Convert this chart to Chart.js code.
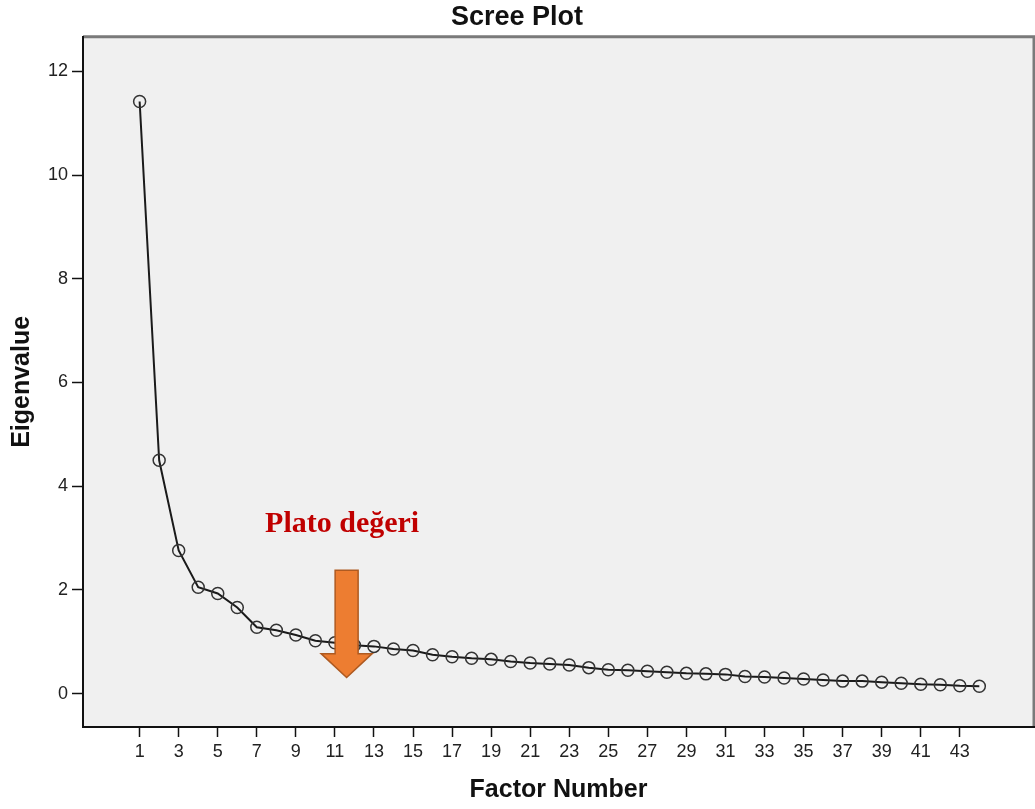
<!DOCTYPE html>
<html>
<head>
<meta charset="utf-8">
<script src="https://cdn.jsdelivr.net/npm/chart.js@4.4.1/dist/chart.umd.min.js"></script>
<style>
  html, body { margin: 0; padding: 0; background: #fff; overflow: hidden; }
  #wrap { width: 1035px; height: 809px; }
  canvas { display: block; }
</style>
</head>
<body>
<div id="wrap"><canvas id="scree" width="1035" height="809"></canvas></div>
<script>
// factor numbers and eigenvalues
const factors = [];
for (let i = 1; i <= 44; i++) factors.push(i);
const eigenvalues = [
  11.42, 4.50, 2.76, 2.05, 1.93, 1.66, 1.28, 1.22, 1.13, 1.02,
  0.98, 0.93, 0.91, 0.86, 0.83, 0.75, 0.71, 0.68, 0.66, 0.62,
  0.59, 0.57, 0.55, 0.50, 0.46, 0.45, 0.43, 0.41, 0.39, 0.38,
  0.37, 0.33, 0.32, 0.30, 0.28, 0.26, 0.24, 0.24, 0.22, 0.20,
  0.18, 0.17, 0.15, 0.14
];
const xTicks = [1, 3, 5, 7, 9, 11, 13, 15, 17, 19, 21, 23, 25, 27, 29, 31, 33, 35, 37, 39, 41, 43];
const yTicks = [0, 2, 4, 6, 8, 10, 12];

const sans = "'Liberation Sans', Arial, sans-serif";

// plot background + grey frame on top/right
const frame = {
  id: 'frame',
  beforeDraw(chart) {
    const { ctx, chartArea: a } = chart;
    ctx.save();
    ctx.fillStyle = '#f0f0f0';
    ctx.fillRect(a.left, a.top, a.right - a.left, a.bottom - a.top);
    ctx.strokeStyle = '#7a7a7a';
    ctx.lineWidth = 3;
    ctx.beginPath();
    ctx.moveTo(a.left, a.top);
    ctx.lineTo(a.right, a.top);
    ctx.lineTo(a.right, a.bottom);
    ctx.stroke();
    ctx.restore();
  }
};

// "Plato değeri" label with the orange arrow
const plateau = {
  id: 'plateau',
  afterDatasetsDraw(chart, args, opts) {
    const { ctx, scales: { x, y } } = chart;
    const cx = x.getPixelForValue(opts.arrowX);
    const top = y.getPixelForValue(opts.arrowTop);
    const neck = y.getPixelForValue(opts.arrowNeck);
    const tip = y.getPixelForValue(opts.arrowTip);
    const sw = 11.5, hw = 25.5;
    ctx.save();
    ctx.beginPath();
    ctx.moveTo(cx - sw, top);
    ctx.lineTo(cx + sw, top);
    ctx.lineTo(cx + sw, neck);
    ctx.lineTo(cx + hw, neck);
    ctx.lineTo(cx, tip);
    ctx.lineTo(cx - hw, neck);
    ctx.lineTo(cx - sw, neck);
    ctx.closePath();
    ctx.fillStyle = '#ed7d31';
    ctx.fill();
    ctx.strokeStyle = '#ae5a21';
    ctx.lineWidth = 1.5;
    ctx.stroke();

    ctx.font = "bold 30px 'Liberation Serif', 'Times New Roman', serif";
    ctx.fillStyle = '#c00000';
    ctx.textAlign = 'center';
    ctx.textBaseline = 'alphabetic';
    ctx.fillText(opts.text, x.getPixelForValue(opts.labelX), y.getPixelForValue(opts.labelY));
    ctx.restore();
  }
};

new Chart(document.getElementById('scree'), {
  type: 'line',
  data: {
    labels: factors,
    datasets: [{
      data: factors.map((f, i) => ({ x: f, y: eigenvalues[i] })),
      borderColor: '#1a1a1a',
      borderWidth: 2,
      pointRadius: 6,
      pointBorderWidth: 1.5,
      pointBorderColor: '#333',
      pointBackgroundColor: 'rgba(0,0,0,0)',
      tension: 0
    }]
  },
  options: {
    responsive: false,
    animation: false,
    events: [],
    layout: { autoPadding: false, padding: { left: 0, right: 1, top: 0, bottom: 0 } },
    plugins: {
      legend: { display: false },
      tooltip: { enabled: false },
      title: {
        display: true,
        text: 'Scree Plot',
        color: '#111',
        font: { family: sans, size: 27, weight: 'bold', lineHeight: 1.1 },
        padding: { top: 3, bottom: 4 }
      },
      plateau: {
        text: 'Plato değeri',
        arrowX: 11.6, arrowTop: 2.38, arrowNeck: 0.77, arrowTip: 0.31,
        labelX: 11.37, labelY: 3.12
      }
    },
    scales: {
      x: {
        type: 'linear',
        min: -1.9,
        max: 46.8,
        afterBuildTicks: s => { s.ticks = xTicks.map(v => ({ value: v })); },
        afterFit: s => { s.height = 82; s.paddingLeft = 0; s.paddingRight = 0; },
        grid: { drawOnChartArea: false, tickLength: 10, tickColor: '#111', tickWidth: 1.5 },
        border: { color: '#111', width: 2 },
        ticks: {
          autoSkip: false, maxRotation: 0, padding: 4,
          color: '#222',
          font: { family: sans, size: 18 }
        },
        title: {
          display: true,
          text: 'Factor Number',
          color: '#111',
          font: { family: sans, size: 25, weight: 'bold', lineHeight: 1.2 },
          padding: { top: 0, bottom: 4 }
        }
      },
      y: {
        type: 'linear',
        min: -0.645,
        max: 12.67,
        afterBuildTicks: s => { s.ticks = yTicks.map(v => ({ value: v })); },
        afterFit: s => { s.width = 83; },
        grid: { drawOnChartArea: false, tickLength: 11, tickColor: '#111', tickWidth: 1.5 },
        border: { color: '#111', width: 2 },
        ticks: {
          padding: 4,
          color: '#222',
          font: { family: sans, size: 18 }
        },
        title: {
          display: true,
          text: 'Eigenvalue',
          color: '#111',
          font: { family: sans, size: 25, weight: 'bold', lineHeight: 1.2 },
          padding: { top: 7, bottom: 0 }
        }
      }
    }
  },
  plugins: [frame, plateau]
});
</script>
</body>
</html>
